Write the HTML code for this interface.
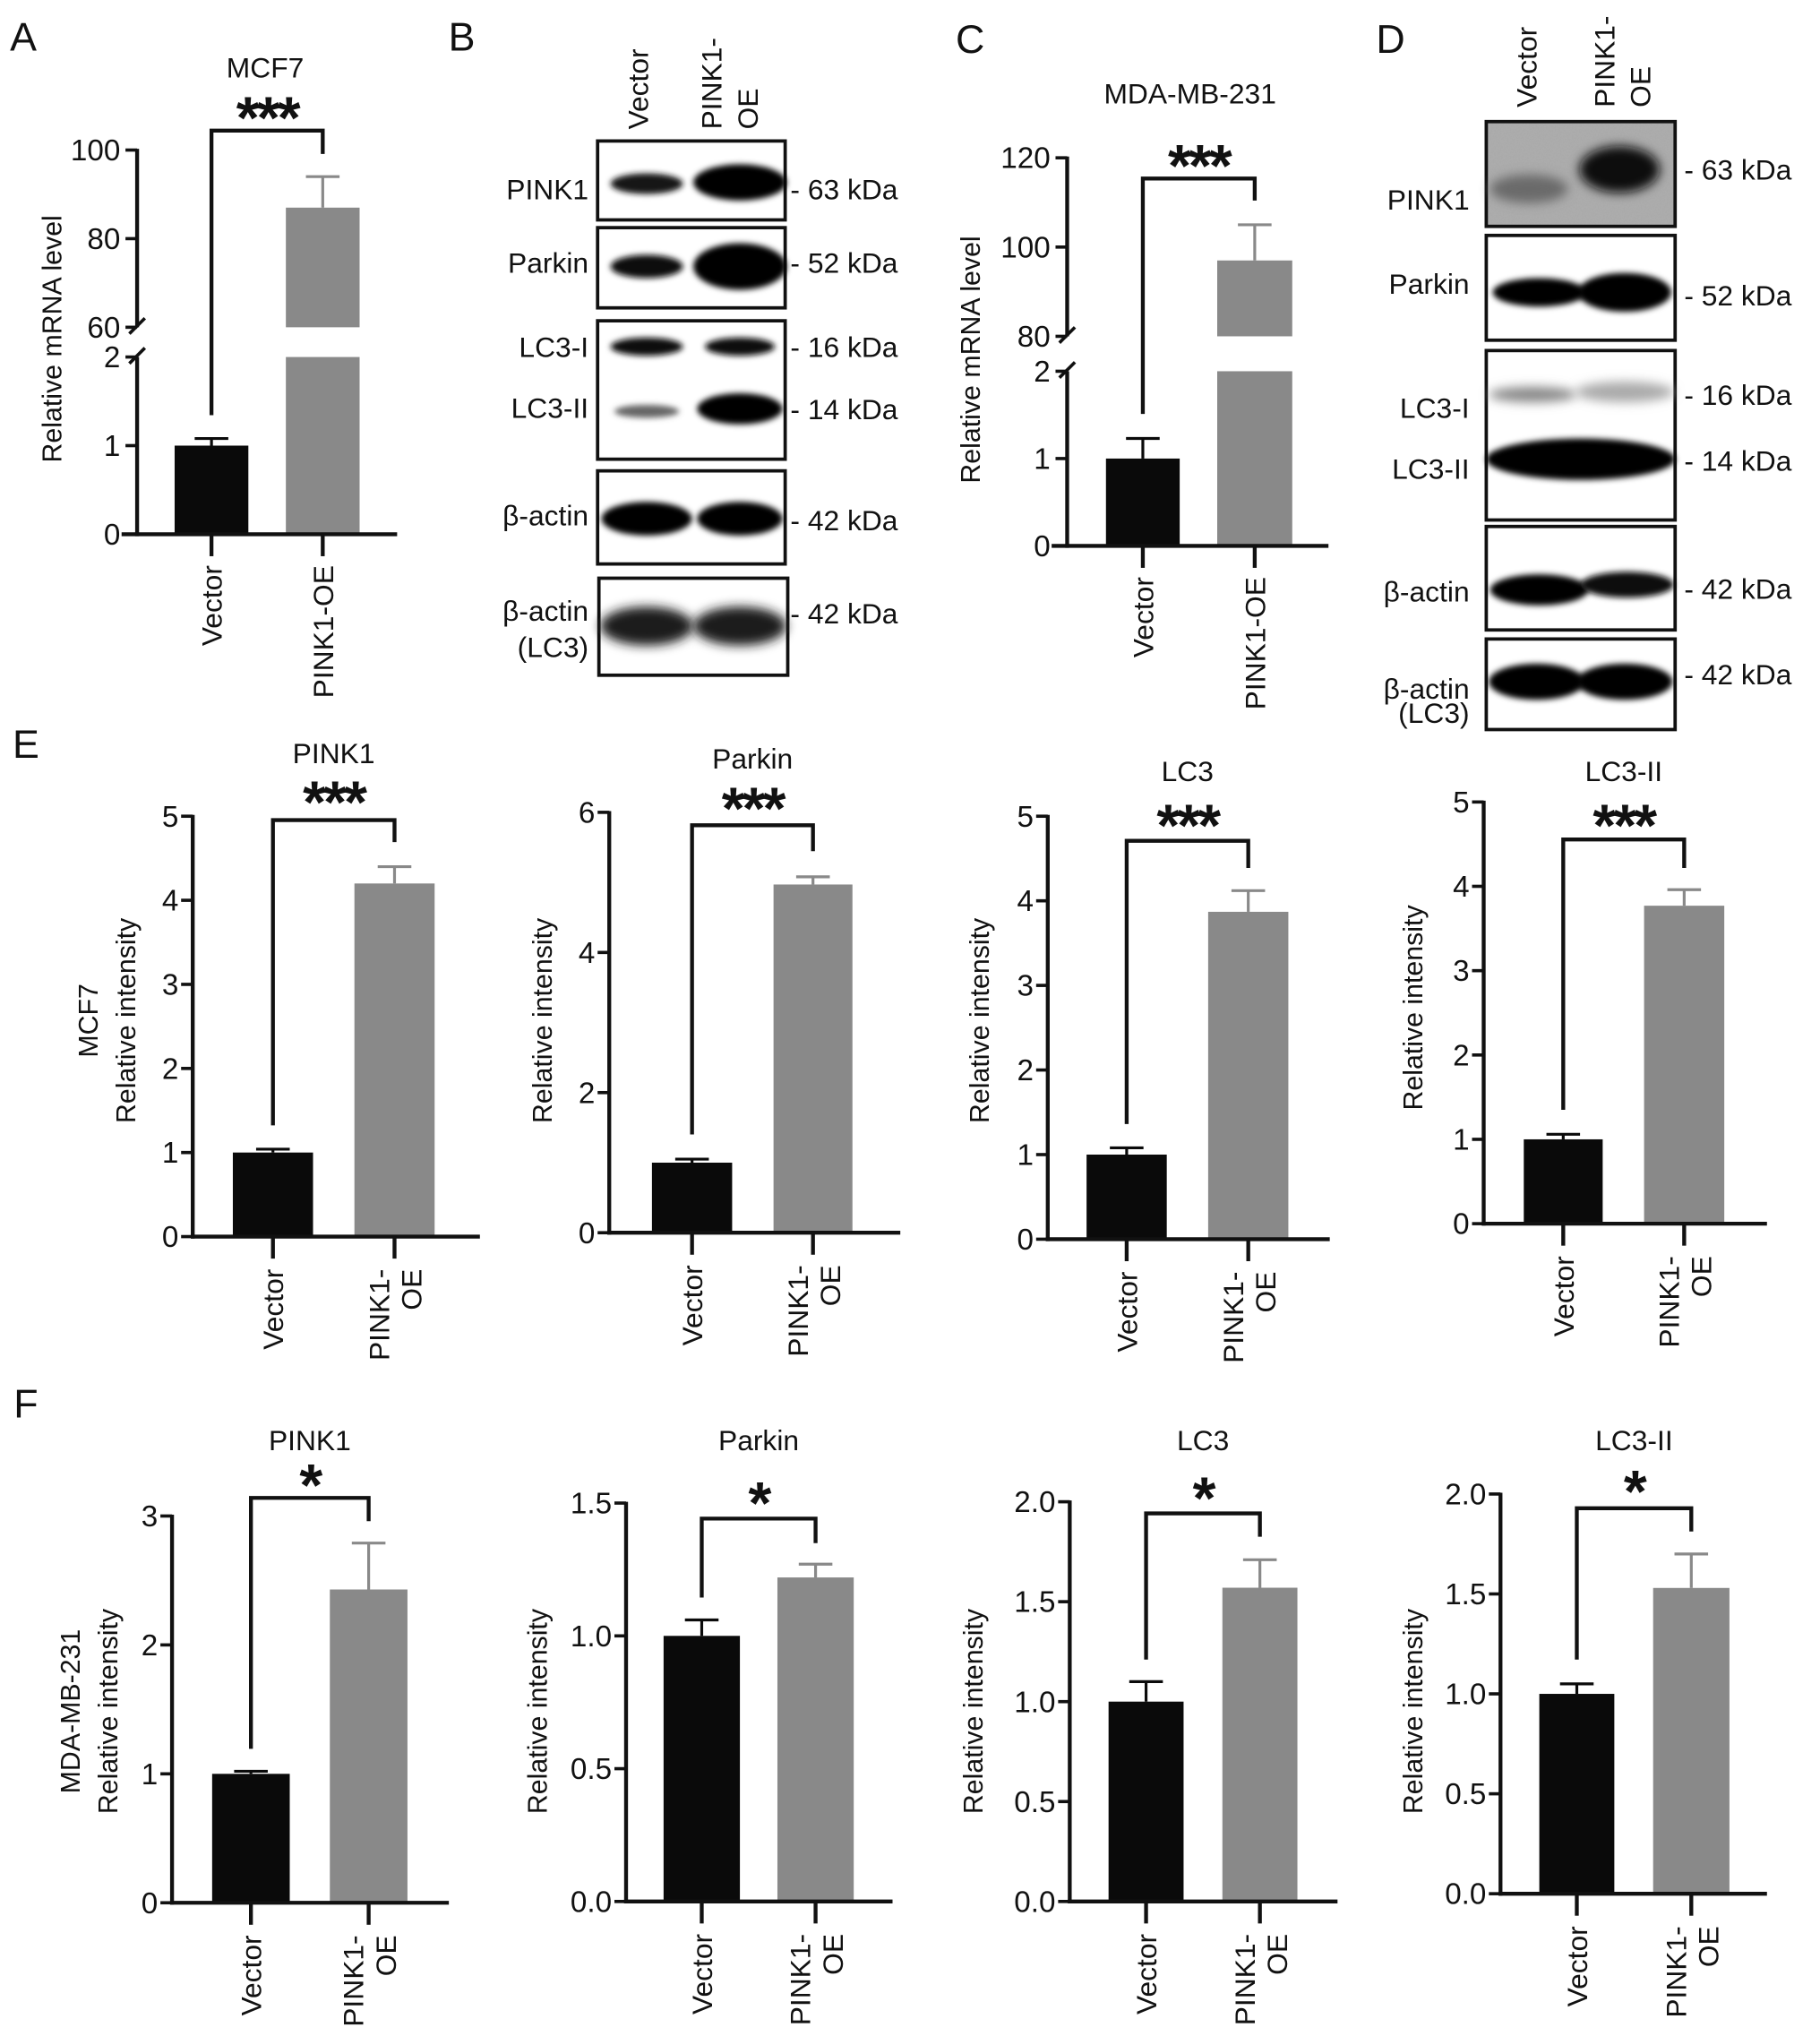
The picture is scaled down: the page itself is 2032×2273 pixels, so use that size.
<!DOCTYPE html>
<html><head><meta charset="utf-8">
<style>
html,body{margin:0;padding:0;background:#fff;}
svg{display:block;}
text{font-family:"Liberation Sans Narrow","Liberation Sans",Arial,sans-serif;fill:#111;}
.reg{font-family:"Liberation Sans",Arial,sans-serif;}
</style></head>
<body>
<svg id="fig" xmlns="http://www.w3.org/2000/svg" width="2032" height="2273" viewBox="0 0 1407 1574" preserveAspectRatio="none">
<defs>
<filter id="b2" x="-30%" y="-60%" width="160%" height="220%"><feGaussianBlur stdDeviation="2.2"/></filter>
<filter id="b4" x="-30%" y="-80%" width="160%" height="260%"><feGaussianBlur stdDeviation="4"/></filter>
<filter id="noise" x="0" y="0" width="100%" height="100%"><feTurbulence type="fractalNoise" baseFrequency="0.9" numOctaves="2" result="n"/><feColorMatrix type="matrix" values="0 0 0 0 0.45  0 0 0 0 0.45  0 0 0 0 0.45  0 0 0 0.6 0"/></filter>
</defs>
</svg>
<script>
// ---------- DATA ----------
const categories = ["Vector", "PINK1-OE"];
const aValues = [1.0, 87];
const aErrTop = [1.08, 94];
const cValues = [1.0, 97];
const cErrTop = [1.23, 105];
const aLowTicks = [0, 1, 2];
const aHighTicks = [60, 80, 100];
const cLowTicks = [0, 1, 2];
const cHighTicks = [80, 100, 120];
const ePink1Values = [1.0, 4.2];   const ePink1Err = [1.04, 4.4];
const eParkinValues = [1.0, 4.97]; const eParkinErr = [1.05, 5.08];
const eLc3Values = [1.0, 3.87];    const eLc3Err = [1.08, 4.12];
const eLc3iiValues = [1.0, 3.77];  const eLc3iiErr = [1.06, 3.96];
const eTicks5 = [0, 1, 2, 3, 4, 5];
const eTicks6 = [0, 2, 4, 6];
const fPink1Values = [1.0, 2.43];  const fPink1Err = [1.02, 2.79];
const fParkinValues = [1.0, 1.22]; const fParkinErr = [1.06, 1.27];
const fLc3Values = [1.0, 1.57];    const fLc3Err = [1.10, 1.71];
const fLc3iiValues = [1.0, 1.53];  const fLc3iiErr = [1.05, 1.70];
const fTicks3 = [0, 1, 2, 3];
const fTicks15 = [0, 0.5, 1.0, 1.5];
const fTicks2 = [0, 0.5, 1.0, 1.5, 2.0];

// ---------- HELPERS ----------
const NS = "http://www.w3.org/2000/svg";
const svg = document.getElementById("fig");
function mk(tag, attrs, parent) {
  const e = document.createElementNS(NS, tag);
  for (const k in attrs) e.setAttribute(k, attrs[k]);
  (parent || svg).appendChild(e);
  return e;
}
function txt(str, x, y, size, anchor, parent, cls, weight) {
  const t = mk("text", {x: x, y: y, "font-size": size, "text-anchor": anchor || "middle"}, parent);
  if (cls) t.setAttribute("class", cls);
  if (weight) t.setAttribute("font-weight", weight);
  t.textContent = str;
  return t;
}
function rtxt(str, cx, ytop, size, parent, cls) {
  const x = cx + size * 0.36;
  const t = mk("text", {x: x, y: ytop, "font-size": size, "text-anchor": "end", transform: "rotate(-90 " + x + " " + ytop + ")"}, parent);
  if (cls) t.setAttribute("class", cls);
  t.textContent = str;
  return t;
}
function rtxtUp(str, cx, ybot, size, parent) {
  const x = cx + size * 0.36;
  const t = mk("text", {x: x, y: ybot, "font-size": size, "text-anchor": "start", class: "reg", transform: "rotate(-90 " + x + " " + ybot + ")"}, parent);
  t.textContent = str;
  return t;
}
function ytitle(str, cx, cy, size, parent) {
  const x = cx + size * 0.36;
  const t = mk("text", {x: x, y: cy, "font-size": size, "text-anchor": "middle", class: "reg", transform: "rotate(-90 " + x + " " + cy + ")"}, parent);
  t.textContent = str;
  return t;
}
function line(x1, y1, x2, y2, w, parent) {
  return mk("line", {x1: x1, y1: y1, x2: x2, y2: y2, stroke: "#111", "stroke-width": w}, parent);
}
function fmt(v, dec) { return dec ? v.toFixed(dec) : String(v); }
function stars(g, str, x, cy) {
  const t = txt(str, x, cy + 27, 46, "middle", g, "reg", "bold");
  t.setAttribute("letter-spacing", "-2");
  return t;
}
function xLabels(g, cx, yTop) {
  let t = rtxt("Vector", cx[0], yTop, 22, g, "reg");
  
  
  t = rtxt("PINK1-", cx[1] - 12, yTop, 22, g, "reg");
  
  
  t = rtxt("OE", cx[1] + 13, yTop, 22, g, "reg");
  
  
}

// ---------- BAR CHART ----------
function barChart(cfg, values, errs, ticks) {
  const g = mk("g", {});
  
  
  const vTop = ticks[ticks.length - 1];
  const y = v => cfg.y0 - (v / vTop) * (cfg.y0 - cfg.yTop);
  const colors = ["#0a0a0a", "#898989"];
  const cx = [];
  values.forEach((v, i) => {
    const b = cfg.bars[i];
    const c = (b[0] + b[1]) / 2; cx.push(c);
    const r = mk("rect", {x: b[0], y: y(v), width: b[1] - b[0], height: cfg.y0 - y(v), fill: colors[i]}, g);
    
    
    const el = mk("g", {stroke: colors[i], "stroke-width": 2.2}, g);
    
    
    mk("line", {x1: c, y1: y(v), x2: c, y2: y(errs[i])}, el);
    mk("line", {x1: c - 13, y1: y(errs[i]), x2: c + 13, y2: y(errs[i])}, el);
  });
  let a = line(cfg.ax, cfg.yTop - 1, cfg.ax, cfg.y0 + 1.5, 3, g);
  
  
  a = line(cfg.ax - 1.5, cfg.y0, cfg.xEnd, cfg.y0, 3, g);
  
  
  ticks.forEach(tv => {
    line(cfg.ax - 9, y(tv), cfg.ax, y(tv), 2.5, g);
    const t = txt(fmt(tv, cfg.dec), cfg.ax - 11, y(tv) + 8, 23, "end", g);
    
    
  });
  cx.forEach(c => line(c, cfg.y0, c, cfg.y0 + 17, 3, g));
  xLabels(g, cx, cfg.y0 + 25);
  const br = cfg.br;
  const p = mk("polyline", {points: cx[0] + "," + br.lb + " " + cx[0] + "," + br.top + " " + cx[1] + "," + br.top + " " + cx[1] + "," + br.rb, fill: "none", stroke: "#111", "stroke-width": 3}, g);
  
  
  let t = stars(g, cfg.stars, (cx[0] + cx[1]) / 2, cfg.starY);
  
  
  t = txt(cfg.title, (cx[0] + cx[1]) / 2, cfg.titleY + 8, 22, "middle", g);
  
  
  cfg.ytitles.forEach(yt => {
    const tt = ytitle(yt[0], yt[1], cfg.ytCy, 21, g);
    
    
  });
}

// ---------- BROKEN AXIS CHART ----------
function brokenChart(cfg, values, errs, lowTicks, highTicks) {
  const g = mk("g", {});
  
  
  const lowMax = lowTicks[lowTicks.length - 1];
  const hMin = highTicks[0], hMax = highTicks[highTicks.length - 1];
  const yl = v => cfg.y0 - (v / lowMax) * (cfg.y0 - cfg.yLowTop);
  const yh = v => cfg.yHighBot - (v - hMin) / (hMax - hMin) * (cfg.yHighBot - cfg.yTop);
  const y = v => v <= lowMax ? yl(v) : yh(v);
  const colors = ["#0a0a0a", "#898989"];
  const cx = [];
  values.forEach((v, i) => {
    const b = cfg.bars[i];
    const c = (b[0] + b[1]) / 2; cx.push(c);
    const r = mk("rect", {x: b[0], y: y(Math.min(v, lowMax)), width: b[1] - b[0], height: cfg.y0 - y(Math.min(v, lowMax)), fill: colors[i]}, g);
    
    
    if (v > lowMax) {
      const r2 = mk("rect", {x: b[0], y: yh(v), width: b[1] - b[0], height: cfg.yHighBot - yh(v), fill: colors[i]}, g);
      
      
    }
    const el = mk("g", {stroke: colors[i], "stroke-width": 2.2}, g);
    
    
    mk("line", {x1: c, y1: y(v), x2: c, y2: y(errs[i])}, el);
    mk("line", {x1: c - 13, y1: y(errs[i]), x2: c + 13, y2: y(errs[i])}, el);
  });
  let a = line(cfg.ax, cfg.yLowTop, cfg.ax, cfg.y0 + 1.5, 3, g);
  
  
  a = line(cfg.ax, cfg.yTop - 1, cfg.ax, cfg.yHighBot, 3, g);
  
  
  line(cfg.ax - 6, cfg.yHighBot + 5, cfg.ax + 6, cfg.yHighBot - 7, 2.5, g);
  line(cfg.ax - 6, cfg.yLowTop + 5, cfg.ax + 6, cfg.yLowTop - 7, 2.5, g);
  a = line(cfg.ax - 12, cfg.y0, cfg.xEnd, cfg.y0, 3, g);
  
  
  lowTicks.concat(highTicks).forEach(tv => {
    line(cfg.ax - 9, y(tv), cfg.ax, y(tv), 2.5, g);
    const t = txt(String(tv), cfg.ax - 13, y(tv) + 8, 23, "end", g);
    
    
  });
  cx.forEach(c => line(c, cfg.y0, c, cfg.y0 + 17, 3, g));
  let t = rtxt("Vector", cx[0], cfg.y0 + 24, 22, g, "reg");
  
  
  t = rtxt("PINK1-OE", cx[1], cfg.y0 + 24, 22, g, "reg");
  
  
  const br = cfg.br;
  const p = mk("polyline", {points: cx[0] + "," + br.lb + " " + cx[0] + "," + br.top + " " + cx[1] + "," + br.top + " " + cx[1] + "," + br.rb, fill: "none", stroke: "#111", "stroke-width": 3}, g);
  
  
  t = stars(g, "***", (cx[0] + cx[1]) / 2, cfg.starY);
  
  
  t = txt(cfg.title, cfg.titleX, cfg.titleY + 8, 22, "middle", g);
  
  
  t = ytitle("Relative mRNA level", cfg.ytX, cfg.ytCy, 21, g);
  
  
}

// ---------- BLOTS ----------
function blotBox(g, name, x1, y1, x2, y2, noisy) {
  if (noisy) {
    mk("rect", {x: x1, y: y1, width: x2 - x1, height: y2 - y1, fill: "#a8a8a8"}, g);
    mk("rect", {x: x1, y: y1, width: x2 - x1, height: y2 - y1, filter: "url(#noise)"}, g);
  }
  const r = mk("rect", {x: x1, y: y1, width: x2 - x1, height: y2 - y1, fill: "none", stroke: "#111", "stroke-width": 2.6}, g);
  
  
}
function band(g, cx, cy, w, h, color, blur) {
  const e = mk("ellipse", {cx: cx, cy: cy, rx: w / 2, ry: h / 2, fill: color, filter: "url(#" + (blur || "b2") + ")"}, g);
  
  
}
function lbl(g, str, x, y, anchor, name) {
  const t = txt(str, x, y + 8, 22, anchor, g);
  
  
}

[["A", 18, 28], ["B", 357, 28], ["C", 750, 30], ["D", 1075, 30], ["E", 20, 575], ["F", 20, 1085]].forEach(p => {
  const t = txt(p[0], p[1], p[2] + 11, 31, "middle", svg, "reg");
  
  
});

brokenChart({name: "panel-a-mcf7-mrna", ax: 106, y0: 413, yLowTop: 276, yHighBot: 253, yTop: 116, xEnd: 307,
  bars: [[135, 192], [221, 278]], br: {top: 101, lb: 321, rb: 119}, starY: 80, title: "MCF7", titleX: 205, titleY: 52,
  ytX: 40, ytCy: 262}, aValues, aErrTop, aLowTicks, aHighTicks);
brokenChart({name: "panel-c-mda-mrna", ax: 825, y0: 422, yLowTop: 287, yHighBot: 260, yTop: 122, xEnd: 1027,
  bars: [[855, 912], [941, 999]], br: {top: 138, lb: 320, rb: 155}, starY: 117, title: "MDA-MB-231", titleX: 920, titleY: 72,
  ytX: 750, ytCy: 278}, cValues, cErrTop, cLowTicks, cHighTicks);

// Panel B blot
(function () {
  const g = mk("g", {});
  
  
  const L = [500, 572];
  let t = rtxtUp("Vector", 493, 100, 22, g);  
  t = rtxtUp("PINK1-", 550, 100, 22, g);  
  t = rtxtUp("OE", 578, 100, 22, g);  
  blotBox(g, "blot-pink1", 462, 109, 607, 170);
  band(g, L[0], 142, 56, 16, "#151515"); band(g, L[1], 141, 72, 28, "#050505");
  blotBox(g, "blot-parkin", 462, 176, 607, 238);
  band(g, L[0], 206, 56, 18, "#0a0a0a"); band(g, L[1], 206, 72, 36, "#000");
  blotBox(g, "blot-lc3", 462, 248, 607, 355);
  band(g, L[0], 268, 56, 14, "#111"); band(g, L[1], 268, 54, 14, "#111");
  band(g, L[0], 318, 50, 10, "#666"); band(g, L[1], 316, 66, 24, "#050505");
  blotBox(g, "blot-beta-actin", 462, 364, 607, 436);
  band(g, L[0], 401, 70, 26, "#050505"); band(g, L[1], 401, 66, 26, "#050505");
  blotBox(g, "blot-beta-actin-lc3", 463, 447, 609, 522);
  band(g, L[0], 484, 72, 30, "#1a1a1a", "b4"); band(g, L[1], 484, 72, 30, "#1a1a1a", "b4");
  [["PINK1", 146], ["Parkin", 203], ["LC3-I", 268], ["LC3-II", 315], ["β-actin", 398], ["β-actin", 472], ["(LC3)", 500]].forEach(r => lbl(g, r[0], 455, r[1], "end", "row-label"));
  [["- 63 kDa", 146], ["- 52 kDa", 203], ["- 16 kDa", 268], ["- 14 kDa", 316], ["- 42 kDa", 402], ["- 42 kDa", 474]].forEach(r => lbl(g, r[0], 611, r[1], "start", "size-marker"));
})();

// Panel D blot
(function () {
  const g = mk("g", {});
  
  
  let t = rtxtUp("Vector", 1180, 83, 22, g);  
  t = rtxtUp("PINK1-", 1240, 83, 22, g);  
  t = rtxtUp("OE", 1268, 83, 22, g);  
  blotBox(g, "blot-pink1", 1149, 94, 1295, 175, true);
  band(g, 1182, 146, 60, 22, "#6a6a6a", "b4"); band(g, 1252, 131, 62, 36, "#111", "b4");
  blotBox(g, "blot-parkin", 1149, 182, 1295, 263);
  band(g, 1190, 226, 72, 22, "#050505"); band(g, 1256, 226, 72, 30, "#000");
  blotBox(g, "blot-lc3", 1149, 271, 1295, 402);
  band(g, 1185, 305, 68, 12, "#888", "b4"); band(g, 1256, 303, 76, 16, "#aaa", "b4");
  band(g, 1222, 355, 146, 32, "#050505", "b2");
  blotBox(g, "blot-beta-actin", 1149, 407, 1295, 487);
  band(g, 1190, 456, 76, 24, "#050505"); band(g, 1258, 452, 72, 20, "#111");
  blotBox(g, "blot-beta-actin-lc3", 1149, 494, 1295, 564);
  band(g, 1188, 527, 74, 28, "#050505"); band(g, 1256, 527, 74, 28, "#050505");
  [["PINK1", 154], ["Parkin", 219], ["LC3-I", 315], ["LC3-II", 362], ["β-actin", 457], ["β-actin", 532], ["(LC3)", 551]].forEach(r => lbl(g, r[0], 1136, r[1], "end", "row-label"));
  [["- 63 kDa", 131], ["- 52 kDa", 228], ["- 16 kDa", 305], ["- 14 kDa", 356], ["- 42 kDa", 455], ["- 42 kDa", 521]].forEach(r => lbl(g, r[0], 1302, r[1], "start", "size-marker"));
})();

// Panel E
barChart({name: "panel-e-pink1", ax: 149, y0: 956, yTop: 631, xEnd: 371, bars: [[180, 242], [274, 336]],
  br: {top: 634, lb: 870, rb: 651}, stars: "***", starY: 609, title: "PINK1", titleY: 582, ytitles: [["MCF7", 68], ["Relative intensity", 97]], ytCy: 789},
  ePink1Values, ePink1Err, eTicks5);
barChart({name: "panel-e-parkin", ax: 471, y0: 953, yTop: 628, xEnd: 696, bars: [[504, 566], [598, 659]],
  br: {top: 638, lb: 877, rb: 658}, stars: "***", starY: 614, title: "Parkin", titleY: 586, ytitles: [["Relative intensity", 419]], ytCy: 789},
  eParkinValues, eParkinErr, eTicks6);
barChart({name: "panel-e-lc3", ax: 810, y0: 958, yTop: 631, xEnd: 1028, bars: [[840, 902], [934, 996]],
  br: {top: 650, lb: 869, rb: 671}, stars: "***", starY: 627, title: "LC3", titleY: 596, ytitles: [["Relative intensity", 757]], ytCy: 789},
  eLc3Values, eLc3Err, eTicks5);
barChart({name: "panel-e-lc3-ii", ax: 1147, y0: 946, yTop: 620, xEnd: 1366, bars: [[1178, 1239], [1271, 1333]],
  br: {top: 649, lb: 858, rb: 671}, stars: "***", starY: 627, title: "LC3-II", titleY: 596, ytitles: [["Relative intensity", 1092]], ytCy: 779},
  eLc3iiValues, eLc3iiErr, eTicks5);

// Panel F
barChart({name: "panel-f-pink1", ax: 133, y0: 1471, yTop: 1172, xEnd: 347, bars: [[164, 224], [255, 315]],
  br: {top: 1158, lb: 1352, rb: 1176}, stars: "*", starY: 1137, title: "PINK1", titleY: 1113, ytitles: [["MDA-MB-231", 54], ["Relative intensity", 83]], ytCy: 1323},
  fPink1Values, fPink1Err, fTicks3);
barChart({name: "panel-f-parkin", ax: 484, y0: 1470, yTop: 1162, xEnd: 690, bars: [[513, 572], [601, 660]], dec: 1,
  br: {top: 1174, lb: 1235, rb: 1193}, stars: "*", starY: 1151, title: "Parkin", titleY: 1113, ytitles: [["Relative intensity", 415]], ytCy: 1323},
  fParkinValues, fParkinErr, fTicks15);
barChart({name: "panel-f-lc3", ax: 827, y0: 1470, yTop: 1161, xEnd: 1034, bars: [[857, 915], [945, 1003]], dec: 1,
  br: {top: 1170, lb: 1283, rb: 1188}, stars: "*", starY: 1147, title: "LC3", titleY: 1113, ytitles: [["Relative intensity", 752]], ytCy: 1323},
  fLc3Values, fLc3Err, fTicks2);
barChart({name: "panel-f-lc3-ii", ax: 1160, y0: 1464, yTop: 1155, xEnd: 1366, bars: [[1190, 1248], [1278, 1337]], dec: 1,
  br: {top: 1166, lb: 1283, rb: 1184}, stars: "*", starY: 1142, title: "LC3-II", titleY: 1113, ytitles: [["Relative intensity", 1092]], ytCy: 1323},
  fLc3iiValues, fLc3iiErr, fTicks2);
</script>
</body></html>
